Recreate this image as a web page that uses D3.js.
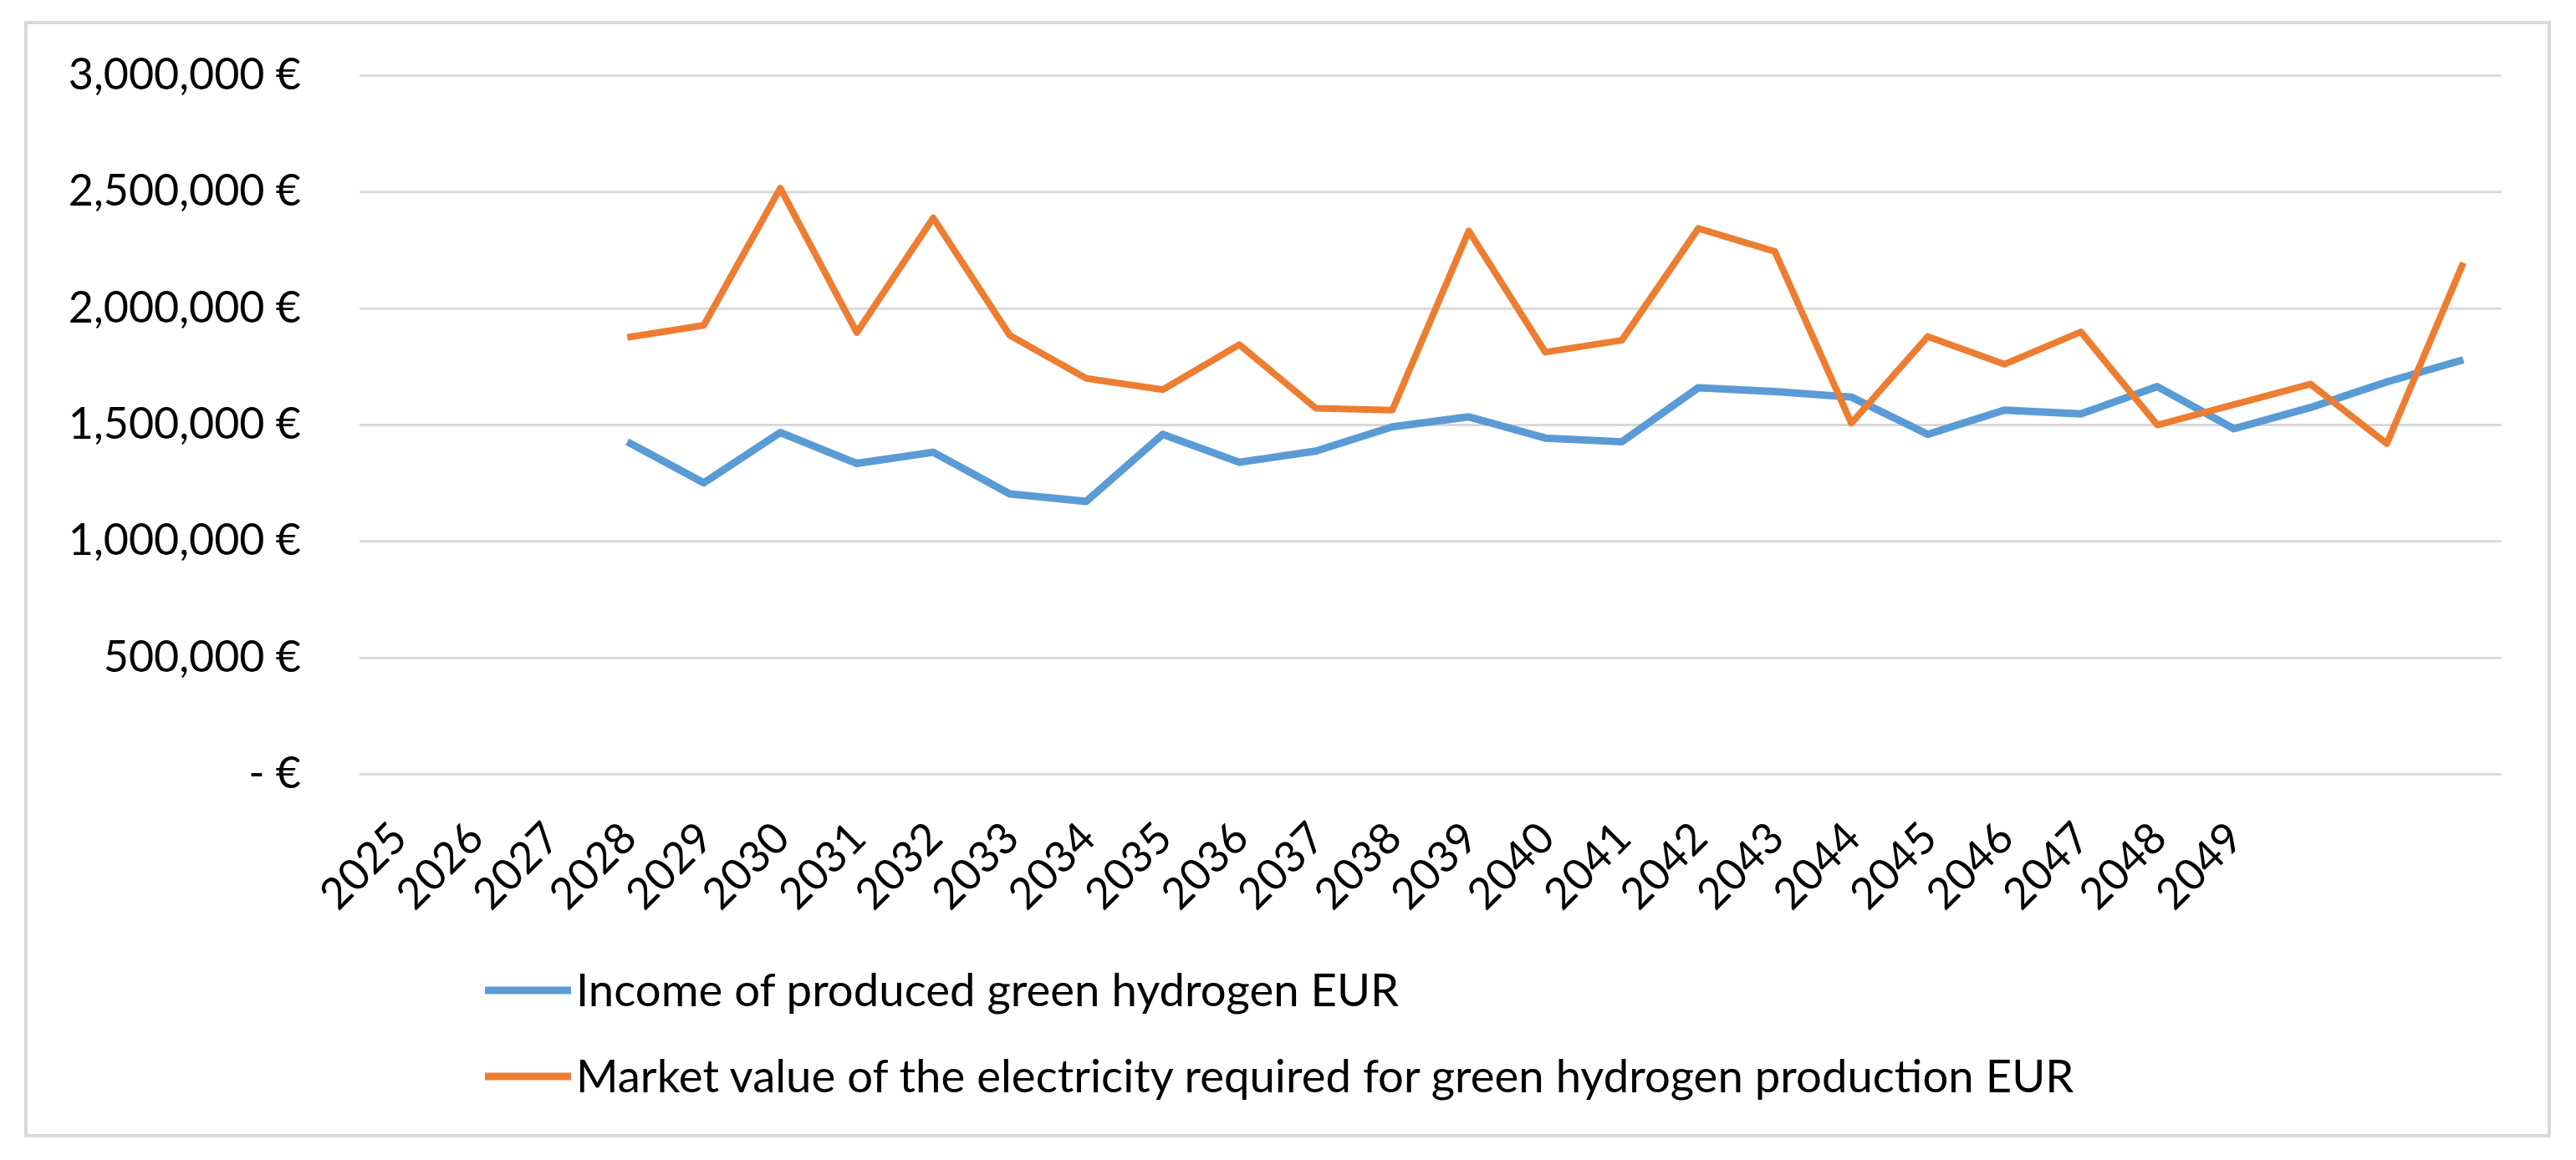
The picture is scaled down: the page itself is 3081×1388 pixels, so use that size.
<!DOCTYPE html>
<html>
<head>
<meta charset="utf-8">
<script src="https://cdn.jsdelivr.net/npm/d3@7"></script>
<style>
  html, body { margin: 0; padding: 0; background: #fff; }
  text { font-family: Lato, "Open Sans", sans-serif; fill: #000; }
</style>
</head>
<body>
<div id="chart"></div>
<script>
// category labels as printed on the axis (last three slots carry no label)
var years = ["2025","2026","2027","2028","2029","2030","2031","2032","2033","2034",
	"2035","2036","2037","2038","2039","2040","2041","2042","2043","2044",
	"2045","2046","2047","2048","2049","","",""];

// values in EUR, one per category slot (first three empty)
var income = [null, null, null,
	1426000, 1250000, 1466000, 1333000, 1381000, 1202000, 1170000, 1458000,
	1338000, 1386000, 1490000, 1533000, 1442000, 1426000, 1658000, 1642000,
	1618000, 1458000, 1562000, 1546000, 1663000, 1482000, 1573000, 1683000, 1778000];

var market = [null, null, null,
	1874000, 1926000, 2515000, 1895000, 2387000, 1883000, 1698000, 1650000,
	1843000, 1570000, 1562000, 2331000, 1811000, 1862000, 2342000, 2243000,
	1506000, 1878000, 1759000, 1898000, 1498000, 1586000, 1674000, 1418000, 2195000];

var yTicks = [0, 500000, 1000000, 1500000, 2000000, 2500000, 3000000];

var seriesNames = ["Income of produced green hydrogen EUR",
	"Market value of the electricity required for green hydrogen production EUR"];
var seriesColors = ["#5B9BD5", "#ED7D31"];

var W = 3081, H = 1388;
var margin = {top: 90, right: 89, bottom: 462, left: 430};
var w = W - margin.left - margin.right;
var h = H - margin.top - margin.bottom;

var svg = d3.select("#chart").append("svg")
	.attr("width", W).attr("height", H);

// outer chart frame
svg.append("rect")
	.attr("x", 31).attr("y", 27)
	.attr("width", 3018).attr("height", 1332)
	.attr("fill", "#fff")
	.attr("stroke", "#D9D9D9").attr("stroke-width", 4);

var g = svg.append("g").attr("transform", "translate(" + margin.left + "," + margin.top + ")");

var x = d3.scaleBand().domain(d3.range(years.length)).range([0, w]).padding(0);
var y = d3.scaleLinear().domain([0, 3000000]).range([h, 0]);

// y axis + gridlines
var yAxis = g.append("g")
	.call(d3.axisLeft(y).tickValues(yTicks).tickSize(-w).tickPadding(70)
		.tickFormat(function(d) { return d === 0 ? "-  €" : d3.format(",")(d) + " €"; }));
yAxis.select(".domain").remove();
yAxis.selectAll("line").attr("stroke", "#D9D9D9").attr("stroke-width", 3);
yAxis.selectAll("text").attr("font-size", 52).attr("font-family", "Lato");

// x axis labels, rotated
var xAxis = g.append("g").attr("transform", "translate(0," + h + ")")
	.call(d3.axisBottom(x).tickSize(0).tickFormat(function(i) { return years[i]; }));
xAxis.select(".domain").remove();
xAxis.selectAll("text")
	.attr("font-size", 52).attr("font-family", "Lato")
	.attr("text-anchor", "end")
	.attr("dy", 0).attr("y", 0)
	.attr("transform", "translate(14,80) rotate(-45)");

var line = d3.line()
	.defined(function(d) { return d != null; })
	.x(function(d, i) { return x(i) + x.bandwidth() / 2; })
	.y(function(d) { return y(d); });

[income, market].forEach(function(s, k) {
	g.append("path")
		.datum(s)
		.attr("fill", "none")
		.attr("stroke", seriesColors[k])
		.attr("stroke-width", k === 0 ? 9 : 8)
		.attr("stroke-linejoin", "round")
		.attr("d", line);
});

// legend
var legend = svg.append("g").attr("transform", "translate(580,1185)");
var items = legend.selectAll("g").data(seriesNames).enter().append("g")
	.attr("transform", function(d, i) { return "translate(0," + (i * 103) + ")"; });
items.append("line")
	.attr("x1", 0).attr("x2", 103).attr("y1", 0).attr("y2", 0)
	.attr("stroke", function(d, i) { return seriesColors[i]; })
	.attr("stroke-width", 9);
items.append("text")
	.attr("x", 109).attr("y", 19)
	.attr("font-size", 54.5)
	.text(function(d) { return d; });
</script>
</body>
</html>
